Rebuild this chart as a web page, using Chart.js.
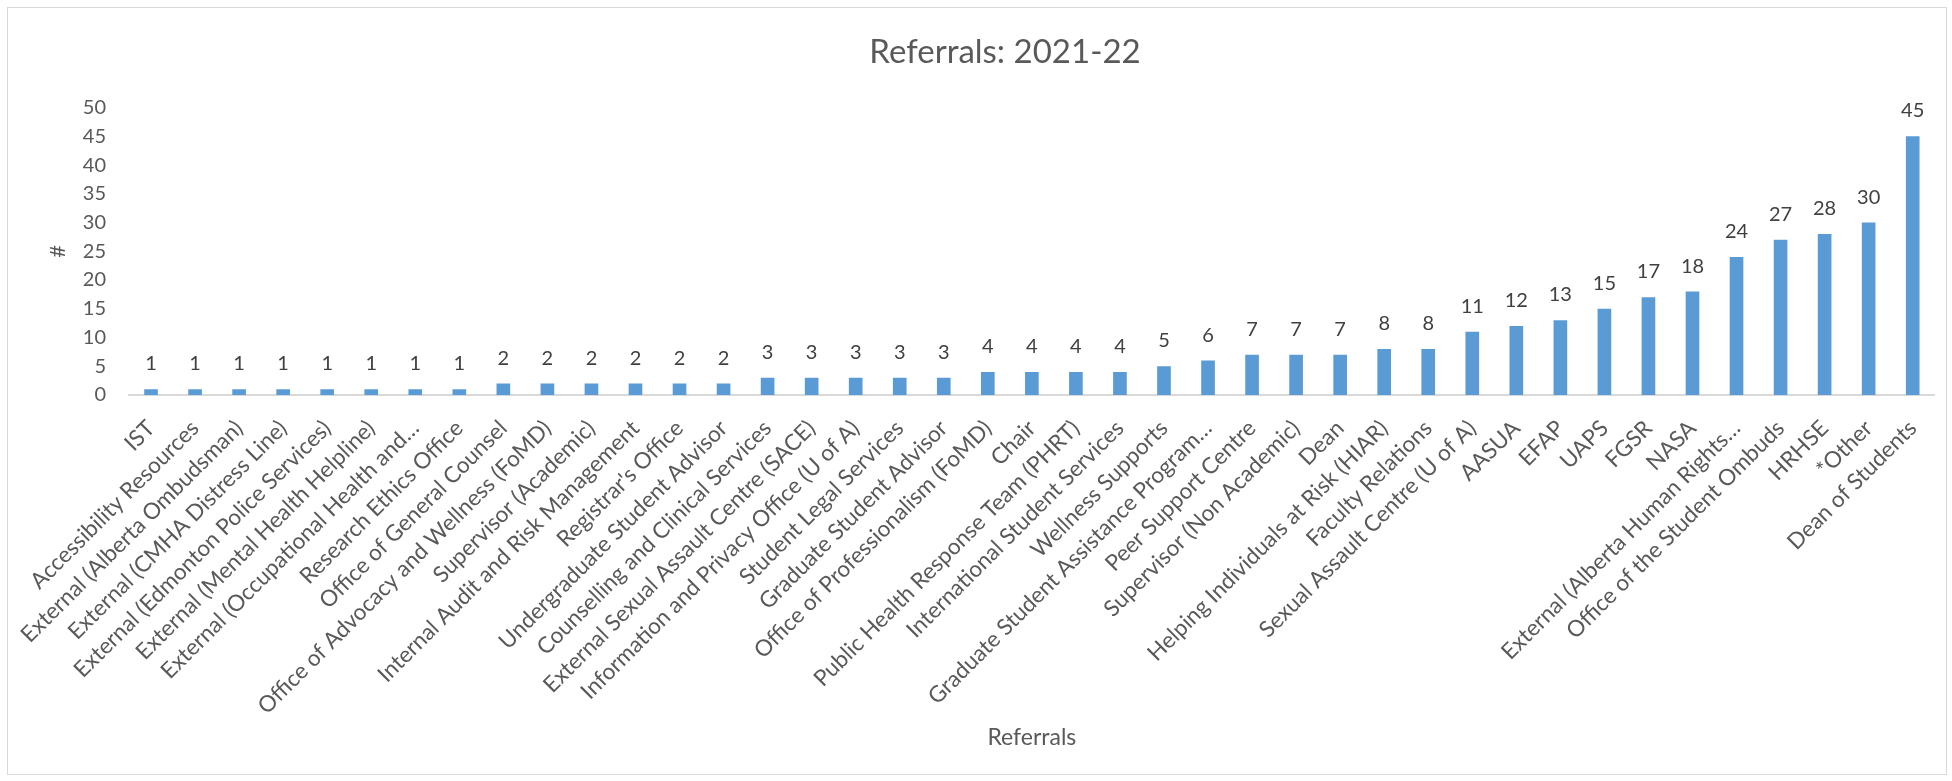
<!DOCTYPE html>
<html lang="en">
<head>
    <meta charset="UTF-8">
    <script src="https://cdn.jsdelivr.net/npm/chart.js"></script>
    <title>Referrals: 2021-22</title>
    <style>
        body { margin: 0; background: #fff; }
        #frame {
            position: absolute; left: 7px; top: 7px;
            width: 1938px; height: 766px;
            border: 1px solid #d9d9d9;
        }
        canvas { position: absolute; left: 0; top: 0; }
    </style>
</head>
<body>
    <div id="frame"></div>
    <canvas id="referralsChart" width="1952" height="781"></canvas>

    <script>
        // Referral destinations, sorted by count
        const referralNames = [
            'IST', 'Accessibility Resources', 'External (Alberta Ombudsman)',
            'External (CMHA Distress Line)', 'External (Edmonton Police Services)',
            'External (Mental Health Helpline)', 'External (Occupational Health and\u2026',
            'Research Ethics Office', 'Office of General Counsel',
            'Office of Advocacy and Wellness (FoMD)', 'Supervisor (Academic)',
            'Internal Audit and Risk Management', "Registrar's Office",
            'Undergraduate Student Advisor', 'Counselling and Clinical Services',
            'External Sexual Assault Centre (SACE)', 'Information and Privacy Office (U of A)',
            'Student Legal Services', 'Graduate Student Advisor',
            'Office of Professionalism (FoMD)', 'Chair', 'Public Health Response Team (PHRT)',
            'International Student Services', 'Wellness Supports',
            'Graduate Student Assistance Program\u2026', 'Peer Support Centre',
            'Supervisor (Non Academic)', 'Dean', 'Helping Individuals at Risk (HIAR)',
            'Faculty Relations', 'Sexual Assault Centre (U of A)', 'AASUA', 'EFAP', 'UAPS',
            'FGSR', 'NASA', 'External (Alberta Human Rights\u2026', 'Office of the Student Ombuds',
            'HRHSE', '*Other', 'Dean of Students'
        ];
        const referralCounts = [
            1, 1, 1, 1, 1, 1, 1, 1,
            2, 2, 2, 2, 2, 2,
            3, 3, 3, 3, 3,
            4, 4, 4, 4,
            5, 6, 7, 7, 7, 8, 8,
            11, 12, 13, 15, 17, 18,
            24, 27, 28, 30, 45
        ];
        const yTicks = { min: 0, max: 50, step: 5 };

        const FONT = 'Lato';
        const GREY = '#595959';

        // writes each count above its bar
        const valueLabels = {
            id: 'valueLabels',
            afterDatasetsDraw(chart) {
                const ctx = chart.ctx;
                const meta = chart.getDatasetMeta(0);
                ctx.save();
                ctx.font = '20px ' + FONT;
                ctx.fillStyle = '#404040';
                ctx.textAlign = 'center';
                ctx.textBaseline = 'alphabetic';
                meta.data.forEach((bar, i) => {
                    ctx.fillText(String(referralCounts[i]), bar.x, bar.y - 19);
                });
                ctx.restore();
            }
        };

        const ctx = document.getElementById('referralsChart').getContext('2d');
        new Chart(ctx, {
            type: 'bar',
            data: {
                labels: referralNames,
                datasets: [{
                    label: '#',
                    data: referralCounts,
                    backgroundColor: '#5b9bd5',
                    borderWidth: 0,
                    barPercentage: 0.31,
                    categoryPercentage: 1
                }]
            },
            options: {
                responsive: false,
                devicePixelRatio: 1,
                animation: false,
                // left padding pushes the title centre to the right
                layout: { padding: { left: 75, right: 17, top: 0, bottom: 0 } },
                plugins: {
                    legend: { display: false },
                    tooltip: { enabled: false },
                    title: {
                        display: true,
                        text: 'Referrals: 2021-22',
                        color: GREY,
                        font: { family: FONT, size: 33, weight: 'normal', lineHeight: 1.2 },
                        padding: { top: 33, bottom: 35 }
                    }
                },
                scales: {
                    x: {
                        grid: { display: false, drawTicks: false },
                        border: { display: true, color: '#d9d9d9', width: 2 },
                        ticks: {
                            autoSkip: false,
                            minRotation: 45,
                            maxRotation: 45,
                            padding: 20,
                            color: GREY,
                            font: { family: FONT, size: 22.5 }
                        },
                        title: {
                            display: true,
                            text: 'Referrals',
                            color: GREY,
                            font: { family: FONT, size: 23, lineHeight: 1.2 },
                            padding: { top: 0, bottom: 30 }
                        },
                        afterFit(scale) { scale.height = 386; }
                    },
                    y: {
                        min: yTicks.min,
                        max: yTicks.max,
                        grid: { display: false, drawTicks: false },
                        border: { display: false },
                        ticks: {
                            stepSize: yTicks.step,
                            padding: 23,
                            color: GREY,
                            font: { family: FONT, size: 20 }
                        },
                        title: {
                            display: true,
                            text: '#',
                            color: GREY,
                            font: { family: FONT, size: 22, lineHeight: 1.2 },
                            padding: { top: -30, bottom: 0 }
                        },
                        afterFit(scale) { scale.width = 54; }
                    }
                }
            },
            plugins: [valueLabels]
        });
    </script>
</body>
</html>
